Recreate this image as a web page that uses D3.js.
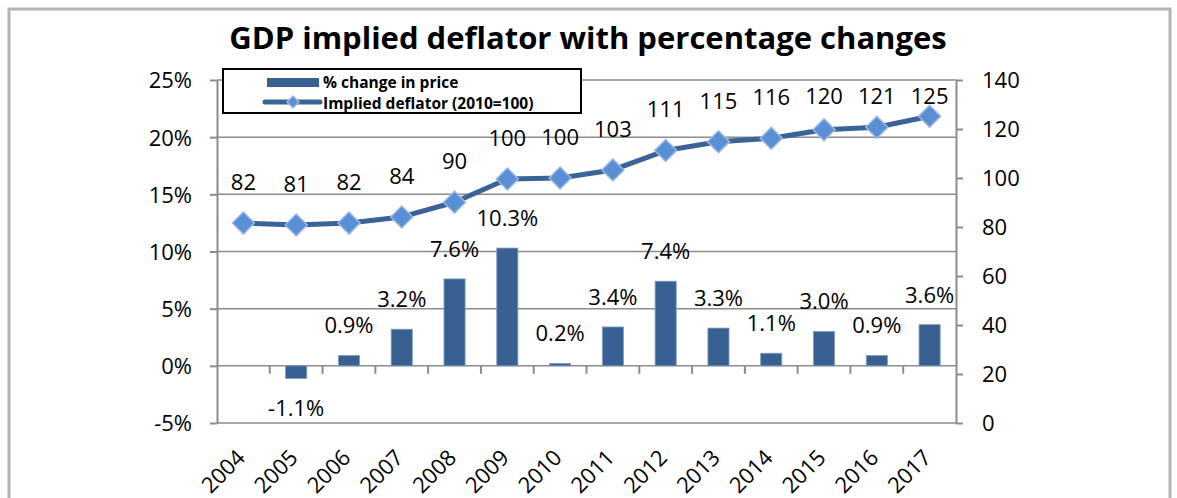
<!DOCTYPE html>
<html>
<head>
<meta charset="utf-8">
<script src="https://cdn.jsdelivr.net/npm/d3@7"></script>
<style>
   body { margin: 0; background: #fff; }
   text { font-family: "Open Sans", sans-serif; fill: #000; }
</style>
</head>
<body>
<div class="chart-container"></div>
<script>
const years = ['2004', '2005', '2006', '2007', '2008', '2009', '2010',
   '2011', '2012', '2013', '2014', '2015', '2016', '2017'];
// % change in price (2004 has no bar)
const pct_change = [null, -1.1, 0.9, 3.2, 7.6, 10.3, 0.2, 3.4, 7.4, 3.3, 1.1, 3.0, 0.9, 3.6];
// implied deflator, 2010 = 100
const deflator = [81.6, 80.8, 81.6, 84.1, 90.1, 99.6, 100, 103.3, 111.2, 114.8, 116.2, 119.7, 120.7, 125.2];
const left_ticks = [-5, 0, 5, 10, 15, 20, 25];
const right_ticks = [0, 20, 40, 60, 80, 100, 120, 140];

const bar_color = '#386192';
const line_color = '#3a6397';
const grid_color = '#8c8c8c';

function build_x_scale(width) {
   return d3.scaleBand().domain(years).range([0, width]).padding(0);
}

function build_graph(margin) {
   const svg = d3.select('.chart-container')
      .append('svg')
      .attr('width', 1177)
      .attr('height', 498);

   svg.append('rect')
      .attr('x', 9).attr('y', 9)
      .attr('width', 1161).attr('height', 600)
      .attr('fill', 'none')
      .attr('stroke', '#b4b4b4')
      .attr('stroke-width', 3);

   svg.append('text')
      .attr('x', 588).attr('y', 49)
      .attr('text-anchor', 'middle')
      .style('font-size', '31px')
      .style('font-weight', 'bold')
      .text('GDP implied deflator with percentage changes');

   return svg.append('g')
      .attr('transform', `translate(${margin.left}, ${margin.top})`);
}

function draw_grid(chart, yLeft, width) {
   chart.append('g')
      .selectAll('line')
      .data(left_ticks)
      .enter()
      .append('line')
      .attr('x1', 0).attr('x2', width)
      .attr('y1', d => yLeft(d)).attr('y2', d => yLeft(d))
      .attr('stroke', grid_color)
      .attr('stroke-width', 1.5);
}

function create_left_axis(chart, yLeft) {
   const axis = d3.axisLeft(yLeft)
      .tickValues(left_ticks)
      .tickFormat(d => d + '%')
      .tickSizeInner(7)
      .tickSizeOuter(0)
      .tickPadding(18);
   const g = chart.append('g').call(axis);
   g.select('.domain').attr('stroke', grid_color).attr('stroke-width', 2);
   g.selectAll('.tick line').attr('stroke', grid_color).attr('stroke-width', 2);
   g.selectAll('text').style('font-size', '22px').attr('dy', '0.36em');
}

function create_right_axis(chart, yRight, width) {
   const axis = d3.axisRight(yRight)
      .tickValues(right_ticks)
      .tickSizeInner(7)
      .tickSizeOuter(0)
      .tickPadding(19);
   const g = chart.append('g')
      .attr('transform', `translate(${width}, 0)`)
      .call(axis);
   g.select('.domain').attr('stroke', grid_color).attr('stroke-width', 2);
   g.selectAll('.tick line').attr('stroke', grid_color).attr('stroke-width', 2);
   g.selectAll('text').style('font-size', '22px').attr('dy', '0.36em');
}

function create_x_axis(chart, xScale, yLeft) {
   const y0 = yLeft(0);
   const bounds = years.slice(1).map(d => xScale(d));
   chart.append('g')
      .selectAll('line')
      .data(bounds)
      .enter()
      .append('line')
      .attr('x1', d => d).attr('x2', d => d)
      .attr('y1', y0).attr('y2', y0 + 8)
      .attr('stroke', grid_color)
      .attr('stroke-width', 2);

   const base = yLeft.range()[0];
   chart.append('g')
      .selectAll('text')
      .data(years)
      .enter()
      .append('text')
      .attr('text-anchor', 'end')
      .attr('transform', d => `translate(${xScale(d) + xScale.bandwidth() / 2 + 3}, ${base + 36}) rotate(-45)`)
      .style('font-size', '22px')
      .text(d => d);
}

function draw_bars(chart, xScale, yLeft) {
   const bar_data = years.map((y, i) => ({year: y, value: pct_change[i]}))
      .filter(d => d.value !== null);
   const bw = xScale.bandwidth() * 0.4;

   chart.selectAll('.bar')
      .data(bar_data)
      .enter()
      .append('rect')
      .attr('class', 'bar')
      .attr('x', d => xScale(d.year) + (xScale.bandwidth() - bw) / 2)
      .attr('y', d => yLeft(Math.max(0, d.value)))
      .attr('width', bw)
      .attr('height', d => Math.abs(yLeft(d.value) - yLeft(0)))
      .attr('fill', bar_color)
      .attr('stroke', '#7f9cc4')
      .attr('stroke-width', 0.8);

   chart.selectAll('.bar-label')
      .data(bar_data)
      .enter()
      .append('text')
      .attr('class', 'bar-label')
      .attr('x', d => xScale(d.year) + xScale.bandwidth() / 2)
      .attr('y', d => d.value >= 0 ? yLeft(d.value) - 30 : yLeft(d.value) + 30)
      .attr('dy', '0.36em')
      .attr('text-anchor', 'middle')
      .style('font-size', '22px')
      .text(d => d.value.toFixed(1) + '%');
}

function diamond(sel, r) {
   return sel.attr('d', `M0,${-r}L${r},0L0,${r}L${-r},0Z`)
      .attr('fill', '#5a8fd5')
      .attr('stroke', '#9ab8e2')
      .attr('stroke-width', 1.5);
}

function draw_line(chart, xScale, yRight) {
   const line_data = years.map((y, i) => ({year: y, value: deflator[i]}));
   const cx = d => xScale(d.year) + xScale.bandwidth() / 2;

   chart.append('path')
      .datum(line_data)
      .attr('fill', 'none')
      .attr('stroke', line_color)
      .attr('stroke-width', 5)
      .attr('stroke-linejoin', 'round')
      .attr('d', d3.line().x(cx).y(d => yRight(d.value)));

   chart.selectAll('.marker')
      .data(line_data)
      .enter()
      .append('path')
      .attr('class', 'marker')
      .attr('transform', d => `translate(${cx(d)}, ${yRight(d.value)})`)
      .call(diamond, 11);

   chart.selectAll('.line-label')
      .data(line_data)
      .enter()
      .append('text')
      .attr('class', 'line-label')
      .attr('x', cx)
      .attr('y', d => Math.max(yRight(d.value) - 41, 16))
      .attr('dy', '0.36em')
      .attr('text-anchor', 'middle')
      .style('font-size', '22px')
      .text(d => d3.format('.0f')(d.value));
}

function draw_legend(svg) {
   const g = svg.append('g').attr('transform', 'translate(223, 69)');
   g.append('rect')
      .attr('width', 358).attr('height', 44)
      .attr('fill', '#fff')
      .attr('stroke', '#000')
      .attr('stroke-width', 2);
   g.append('rect')
      .attr('x', 44).attr('y', 9)
      .attr('width', 52).attr('height', 9)
      .attr('fill', bar_color);
   g.append('line')
      .attr('x1', 42).attr('x2', 97)
      .attr('y1', 33).attr('y2', 33)
      .attr('stroke', line_color)
      .attr('stroke-width', 5)
      .attr('stroke-linecap', 'round');
   g.append('path')
      .attr('transform', 'translate(70, 33)')
      .call(diamond, 6);
   g.selectAll('.legend-text')
      .data(['% change in price', 'Implied deflator (2010=100)'])
      .enter()
      .append('text')
      .attr('x', 100)
      .attr('y', (d, i) => 13 + i * 21)
      .attr('dy', '0.36em')
      .style('font-size', '15.5px')
      .style('font-weight', 'bold')
      .text(d => d);
}

function build_chart() {
   const margin = {top: 80, left: 217};
   const width = 739;
   const height = 343;

   const xScale = build_x_scale(width);
   const yLeft = d3.scaleLinear().domain([-5, 25]).range([height, 0]);
   const yRight = d3.scaleLinear().domain([0, 140]).range([height, 0]);

   const chart = build_graph(margin);
   draw_grid(chart, yLeft, width);
   create_left_axis(chart, yLeft);
   create_right_axis(chart, yRight, width);
   create_x_axis(chart, xScale, yLeft);
   draw_bars(chart, xScale, yLeft);
   draw_line(chart, xScale, yRight);
   draw_legend(d3.select('.chart-container svg'));
}

build_chart();
</script>
</body>
</html>
